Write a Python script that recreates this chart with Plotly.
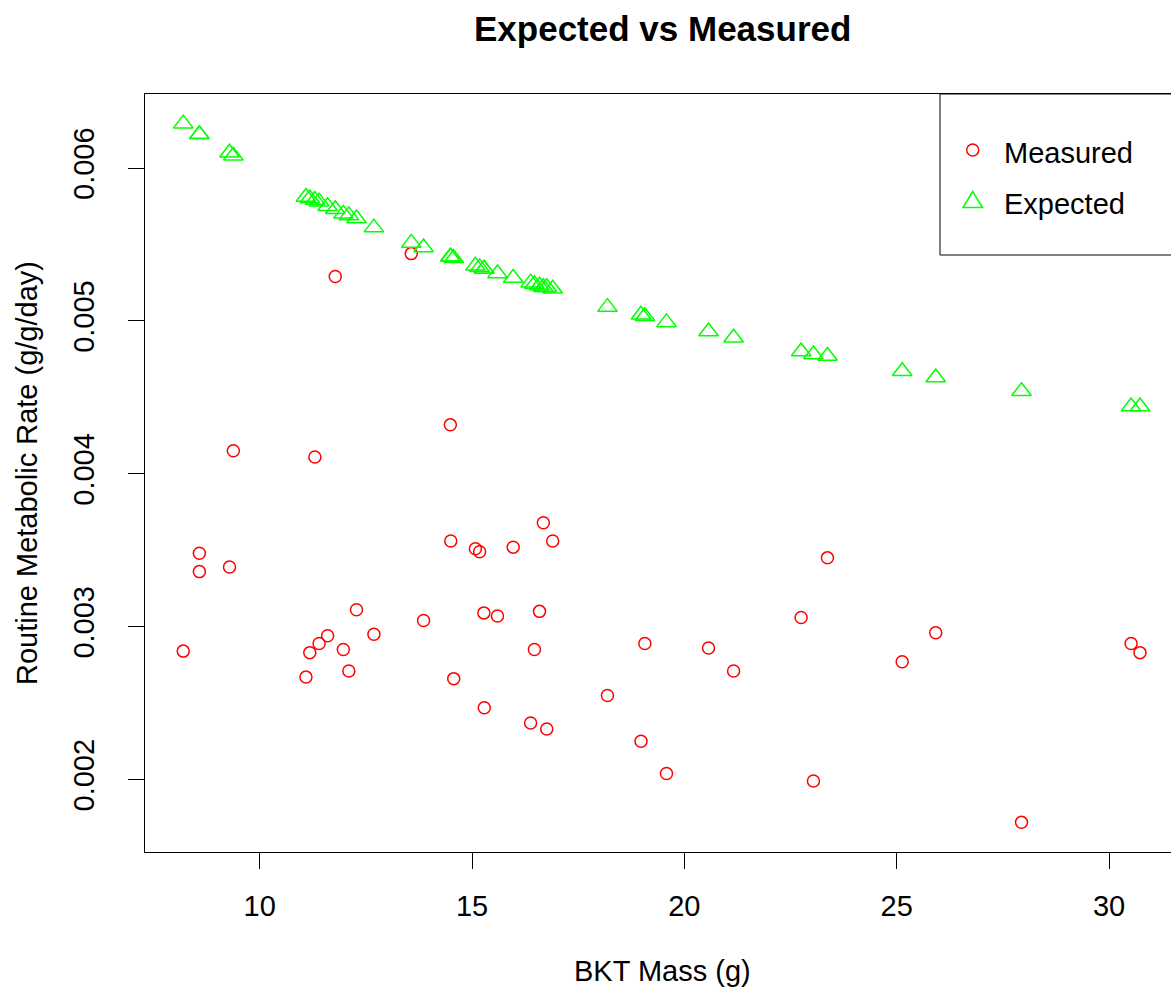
import plotly.graph_objects as go

# Fish body mass (g) and routine metabolic rate (g/g/day)
mass = [8.20, 8.58, 8.58, 9.29, 9.38, 11.09, 11.18, 11.30, 11.40, 11.60, 11.78, 11.97,
        12.10, 12.28, 12.69, 13.57, 13.86, 14.49, 14.50, 14.57, 15.08, 15.18, 15.28,
        15.29, 15.60, 15.97, 16.38, 16.47, 16.59, 16.68, 16.76, 16.90, 18.19, 18.98,
        19.07, 19.58, 20.57, 21.16, 22.75, 23.04, 23.37, 25.13, 25.92, 27.94, 30.52, 30.73]

measured = [0.00284, 0.00348, 0.00336, 0.00339, 0.00415, 0.00267, 0.00283, 0.00411,
            0.00289, 0.00294, 0.00529, 0.00285, 0.00271, 0.00311, 0.00295, 0.00544,
            0.00304, 0.00432, 0.00356, 0.00266, 0.00351, 0.00349, 0.00309, 0.00247,
            0.00307, 0.00352, 0.00237, 0.00285, 0.00310, 0.00368, 0.00233, 0.00356,
            0.00255, 0.00225, 0.00289, 0.00204, 0.00286, 0.00271, 0.00306, 0.00199,
            0.00345, 0.00277, 0.00296, 0.00172, 0.00289, 0.00283]

expected = [0.00629, 0.00622, 0.00622, 0.00610, 0.00608, 0.00581, 0.00580, 0.00579,
            0.00578, 0.00575, 0.00573, 0.00570, 0.00569, 0.00567, 0.00561, 0.00551,
            0.00548, 0.00542, 0.00542, 0.00541, 0.00536, 0.00535, 0.00534, 0.00534,
            0.00531, 0.00528, 0.00525, 0.00524, 0.00523, 0.00522, 0.00522, 0.00521,
            0.00509, 0.00504, 0.00503, 0.00499, 0.00493, 0.00489, 0.00480, 0.00478,
            0.00477, 0.00467, 0.00463, 0.00454, 0.00444, 0.00444]

x_ticks = [10, 15, 20, 25, 30]
y_ticks = [0.002, 0.003, 0.004, 0.005, 0.006]
y_tick_text = ["0.002", "0.003", "0.004", "0.005", "0.006"]

FONT = "Liberation Sans, Arial, sans-serif"
FS = 29

# canvas geometry (pixels)
WIDTH, HEIGHT = 1171, 993
L, T, B = 145, 94, 141
PW, PH = WIDTH - L, HEIGHT - T - B


def px_x(px):
    return (px - L) / PW


def px_y(py):
    return (T + PH - py) / PH


fig = go.Figure()
fig.add_trace(go.Scatter(
    x=mass, y=measured, mode="markers", name="Measured",
    marker=dict(symbol="circle-open", size=12, color="#FF0000", line=dict(width=1.5)),
))
fig.add_trace(go.Scatter(
    x=mass, y=expected, mode="markers", name="Expected",
    marker=dict(symbol="triangle-up-open", size=17, color="#00FF00", line=dict(width=1.5)),
))

axis_common = dict(
    showgrid=False, zeroline=False, showline=True, linecolor="black", linewidth=1,
    ticks="outside", ticklen=16, tickcolor="black", tickwidth=1,
    tickfont=dict(family=FONT, size=FS, color="black"),
)

fig.update_xaxes(range=[7.3, 31.46], tickvals=x_ticks, mirror=True,
                 ticklabelstandoff=12, **axis_common)
fig.update_yaxes(range=[0.001526, 0.006484], tickvals=y_ticks, ticktext=y_tick_text,
                 tickangle=-90, mirror=False, ticklabelstandoff=22, **axis_common)

shapes = [
    # legend box (right side runs off the canvas)
    dict(type="rect", xref="paper", yref="paper",
         x0=px_x(940), x1=px_x(1220), y0=px_y(255), y1=px_y(T),
         line=dict(color="black", width=1), fillcolor="white", layer="above"),
    dict(type="circle", xref="paper", yref="paper",
         x0=px_x(966.7), x1=px_x(978.7), y0=px_y(156), y1=px_y(144),
         line=dict(color="#FF0000", width=1.5), layer="above"),
    dict(type="path", xref="paper", yref="paper",
         path=f"M{px_x(963)},{px_y(207.5)} L{px_x(982.5)},{px_y(207.5)} "
              f"L{px_x(972.7)},{px_y(191.5)} Z",
         line=dict(color="#00FF00", width=1.5), layer="above"),
]

annotations = [
    dict(text="<b>Expected vs Measured</b>", xref="paper", yref="paper",
         x=px_x(662), y=px_y(28), xanchor="center", yanchor="middle", showarrow=False,
         font=dict(family=FONT, size=35, color="black")),
    dict(text="BKT Mass (g)", xref="paper", yref="paper",
         x=px_x(662), y=px_y(971), xanchor="center", yanchor="middle", showarrow=False,
         font=dict(family=FONT, size=FS, color="black")),
    dict(text="Routine Metabolic Rate (g/g/day)", xref="paper", yref="paper",
         x=px_x(27), y=px_y(473), xanchor="center", yanchor="middle", showarrow=False,
         textangle=-90, font=dict(family=FONT, size=FS, color="black")),
    dict(text="Measured", xref="paper", yref="paper",
         x=px_x(1002), y=px_y(153), xanchor="left", yanchor="middle", showarrow=False,
         font=dict(family=FONT, size=FS, color="black")),
    dict(text="Expected", xref="paper", yref="paper",
         x=px_x(1002), y=px_y(204), xanchor="left", yanchor="middle", showarrow=False,
         font=dict(family=FONT, size=FS, color="black")),
]

fig.update_layout(
    width=WIDTH, height=HEIGHT, autosize=False,
    margin=dict(l=L, r=0, t=T, b=B, pad=0),
    paper_bgcolor="white", plot_bgcolor="white",
    showlegend=False, shapes=shapes, annotations=annotations,
)

fig.write_html("out.html")
